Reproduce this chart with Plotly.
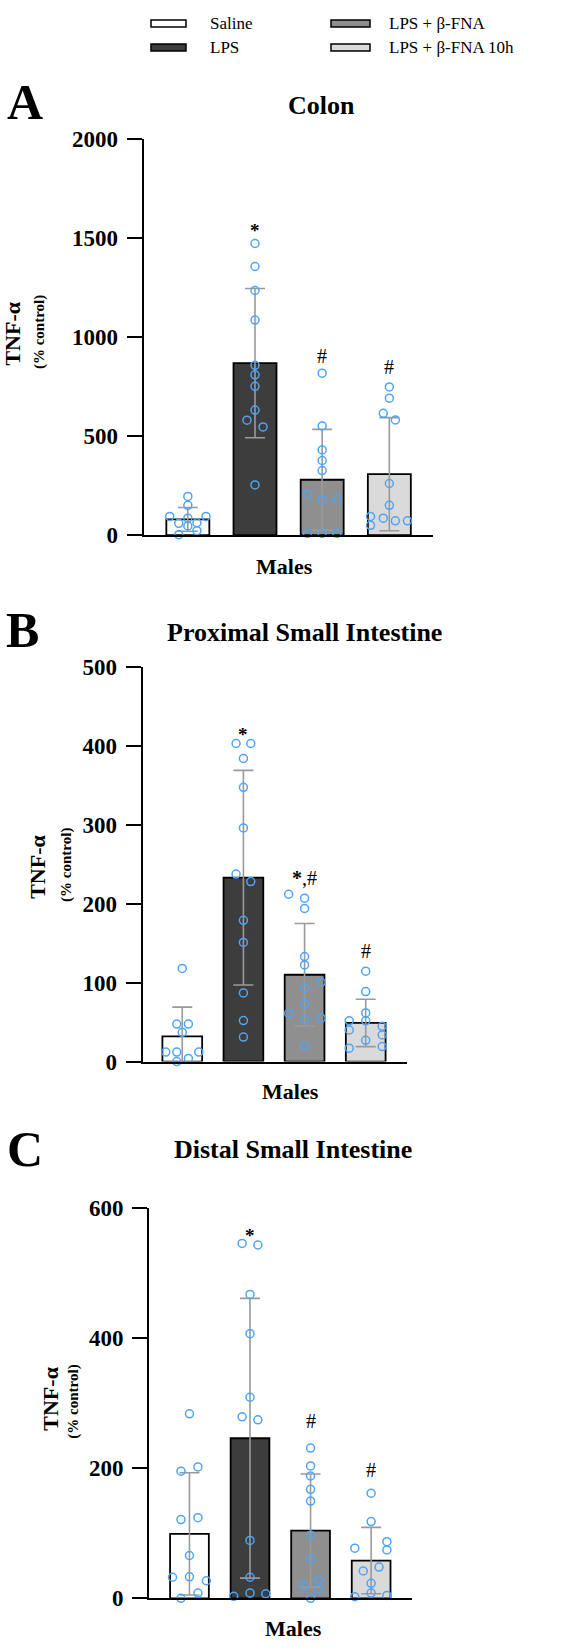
import plotly.graph_objects as go

W, H = 571, 1652

groups = ["Saline", "LPS", "LPS + β-FNA", "LPS + β-FNA 10h"]

# ---------------- data ----------------
# Panel A: Colon
colon_mean = [80, 868, 280, 308]
colon_sd = [60, 376, 254, 285]
colon_saline = [196, 151, 95, 95, 86, 60, 63, 47, 23, 3]
colon_lps = [1471, 1355, 1234, 1085, 857, 809, 751, 631, 580, 546, 254]
colon_fna = [817, 551, 430, 377, 326, 206, 178, 181, 10, 10, 10]
colon_fna10 = [748, 691, 615, 581, 261, 151, 95, 50, 86, 73, 73]

# Panel B: Proximal small intestine
prox_mean = [32, 233, 110, 49]
prox_sd = [37, 136, 65, 30]
prox_saline = [118, 47.5, 47.5, 37, 12, 12, 12, 4, 0]
prox_lps = [403, 403, 384, 347.5, 296, 237.5, 228, 179, 151, 87, 52, 31]
prox_fna = [212, 207, 194, 133, 122.5, 100.4, 93, 73, 61, 55, 53, 20]
prox_fna10 = [114.6, 88.75, 61.7, 51.7, 51.7, 40, 44.6, 33.75, 27, 19, 17]

# Panel C: Distal small intestine
dist_mean = [99, 246, 104, 58]
dist_sd = [94, 215, 87, 51]
dist_saline = [283.5, 202, 195.4, 124, 121, 65.8, 33, 32.4, 27, 8, 0]
dist_lps = [545.5, 543, 467, 406.7, 309, 279, 274.4, 89, 32.4, 8, 3, 7]
dist_fna = [231, 203.5, 188, 167.6, 149.4, 97, 61, 28, 20, 14, 0]
dist_fna10 = [161.5, 118, 87, 74.4, 77, 48, 42, 23, 8, 2.5, 4.5]

# significance labels
colon_sig = ["", "*", "#", "#"]
prox_sig = ["", "*", "<b>*</b>,#", "#"]
dist_sig = ["", "*", "#", "#"]

# ---------------- layout helpers (jitter / positions) ----------------
colon_jit = [
    [0, 0, -0.27, 0.27, 0, -0.135, 0.135, 0, 0.135, -0.135],
    [0, 0, 0, 0, 0, 0, 0, 0, -0.12, 0.12, 0],
    [0, 0, 0, 0, 0, -0.22, 0, 0.22, -0.22, 0, 0.22],
    [0, 0, -0.09, 0.09, 0, 0, -0.28, -0.28, -0.09, 0.09, 0.27],
]
prox_jit = [
    [0, -0.09, 0.1, 0, -0.27, -0.09, 0.27, 0.1, -0.09],
    [-0.12, 0.12, 0, 0, 0, -0.12, 0.12, 0, 0, 0, 0, 0],
    [-0.26, 0, 0, 0, 0, 0.27, 0, 0, -0.26, 0.27, 0, 0],
    [0, 0, 0, 0, -0.27, -0.27, 0.27, 0.27, 0, 0.27, -0.27],
]
dist_jit = [
    [0, 0.14, -0.14, 0.14, -0.14, 0, 0, -0.28, 0.28, 0.14, -0.14],
    [-0.13, 0.13, 0, 0, 0, -0.13, 0.13, 0, 0, 0, -0.27, 0.26],
    [0, 0, 0, 0, 0, 0, 0, 0.135, -0.11, 0.135, 0],
    [0, 0, 0.26, 0.26, -0.27, 0.13, -0.13, 0, 0, -0.27, 0.26],
]

bar_colors = ["#ffffff", "#3d3d3d", "#8f8f8f", "#dadada"]
pt_color = "#4ea4f6"
SERIF = "Liberation Serif"


def px_x(p):
    return p / W


def px_y(p):
    return 1 - p / H


panels = [
    dict(mean=colon_mean, sd=colon_sd,
         pts=[colon_saline, colon_lps, colon_fna, colon_fna10], jit=colon_jit,
         sig=colon_sig, sigy=[0, 1563, 904, 850], title="Colon",
         xd=[143.5, 433], yd=[531.3, 128.5], xr=[-0.66, 3.65], yr=[0, 2000], dt=500,
         bw=0.64, letter="A", letter_xy=(25, 91), title_xy=(321.7, 95),
         males_xy=(284.7, 563), tnf_xy=(12.5, 327), ctrl_xy=(39, 325)),
    dict(mean=prox_mean, sd=prox_sd,
         pts=[prox_saline, prox_lps, prox_fna, prox_fna10], jit=prox_jit,
         sig=prox_sig, sigy=[0, 421, 232, 140], title="Proximal Small Intestine",
         xd=[142.7, 407.3], yd=[1065.7, 665], xr=[-0.647, 3.68], yr=[0, 500], dt=100,
         bw=0.65, letter="B", letter_xy=(22, 627), title_xy=(304, 630),
         males_xy=(290.8, 1096), tnf_xy=(38, 868), ctrl_xy=(67, 866)),
    dict(mean=dist_mean, sd=dist_sd,
         pts=[dist_saline, dist_lps, dist_fna, dist_fna10], jit=dist_jit,
         sig=dist_sig, sigy=[0, 565, 273, 197], title="Distal Small Intestine",
         xd=[149, 411.7], yd=[1610.7, 1214.3], xr=[-0.668, 3.67], yr=[0, 600], dt=200,
         bw=0.64, letter="C", letter_xy=(25, 1154), title_xy=(293, 1155),
         males_xy=(293, 1641), tnf_xy=(51, 1408), ctrl_xy=(74, 1411)),
]

fig = go.Figure()
annotations = []
shapes = []
layout_axes = {}

for i, p in enumerate(panels):
    n = "" if i == 0 else str(i + 1)
    xa, ya = "x" + n, "y" + n
    fig.add_trace(go.Bar(
        x=list(range(4)), y=p["mean"], width=p["bw"], xaxis=xa, yaxis=ya,
        marker=dict(color=bar_colors, line=dict(color="black", width=1.8)),
        error_y=dict(type="data", array=p["sd"], visible=True, color="#9a9a9a",
                     thickness=1.6, width=10),
        showlegend=False, hoverinfo="skip"))
    for g in range(4):
        vals = p["pts"][g]
        xs = [g + o for o in p["jit"][g]]
        fig.add_trace(go.Scatter(
            x=xs, y=vals, mode="markers", xaxis=xa, yaxis=ya, cliponaxis=False,
            marker=dict(symbol="circle-open", size=8, color=pt_color,
                        line=dict(width=1.5, color=pt_color)),
            showlegend=False, hoverinfo="skip"))
        if p["sig"][g]:
            txt = p["sig"][g]
            is_star = txt == "*"
            annotations.append(dict(
                x=g, y=p["sigy"][g], xref=xa, yref=ya, text=txt, showarrow=False,
                xanchor="center", yanchor="middle", yshift=-5 if is_star else 0,
                font=dict(family=SERIF, size=19 if is_star else 20, color="black",
                          weight="bold" if is_star else "normal")))
    layout_axes["xaxis" + n] = dict(
        domain=[px_x(p["xd"][0]), px_x(p["xd"][1])], range=p["xr"], anchor=ya,
        showline=True, linewidth=2, linecolor="black", showgrid=False,
        zeroline=False, showticklabels=False, ticks="", fixedrange=True)
    layout_axes["yaxis" + n] = dict(
        domain=[px_y(p["yd"][0]), px_y(p["yd"][1])], range=p["yr"], anchor=xa,
        showline=True, linewidth=2, linecolor="black", showgrid=False,
        zeroline=False, ticks="outside", ticklen=15, tickwidth=2, tickcolor="black",
        tick0=0, dtick=p["dt"], ticklabelstandoff=4,
        tickfont=dict(family=SERIF, size=23, color="black", weight="bold"),
        fixedrange=True)
    # panel letter
    lx, ly = p["letter_xy"]
    annotations.append(dict(x=px_x(lx), y=px_y(ly), xref="paper", yref="paper",
                            text=p["letter"], showarrow=False, xanchor="center",
                            yanchor="middle",
                            font=dict(family=SERIF, size=50, color="black", weight="bold")))
    tx, ty = p["title_xy"]
    annotations.append(dict(x=px_x(tx), y=px_y(ty), xref="paper", yref="paper",
                            text=p["title"], showarrow=False, xanchor="center",
                            yanchor="middle",
                            font=dict(family=SERIF, size=26, color="black", weight="bold")))
    mx, my = p["males_xy"]
    annotations.append(dict(x=px_x(mx), y=px_y(my), xref="paper", yref="paper",
                            text="Males", showarrow=False, xanchor="center",
                            yanchor="middle",
                            font=dict(family=SERIF, size=22, color="black", weight="bold")))
    nx, ny = p["tnf_xy"]
    annotations.append(dict(x=px_x(nx), y=px_y(ny), xref="paper", yref="paper",
                            text="TNF-α", showarrow=False, textangle=-90,
                            xanchor="center", yanchor="middle", borderpad=0,
                            font=dict(family=SERIF, size=22, color="black", weight="bold")))
    cx, cy = p["ctrl_xy"]
    annotations.append(dict(x=px_x(cx), y=px_y(cy), xref="paper", yref="paper",
                            text="(% control)", showarrow=False, textangle=-90,
                            xanchor="center", yanchor="middle", borderpad=0,
                            font=dict(family=SERIF, size=15, color="black", weight="bold")))

# ---------------- legend (custom) ----------------
leg_pos = [(151, 186, 11.7), (151, 186, 36), (331, 370, 11.7), (331, 370, 36)]
leg_text_x = [208, 208, 387, 387]
for g in range(4):
    x0, x1, yc = leg_pos[g]
    shapes.append(dict(type="rect", xref="paper", yref="paper",
                       x0=px_x(x0), x1=px_x(x1), y0=px_y(yc + 3.5), y1=px_y(yc - 3.5),
                       fillcolor=bar_colors[g], line=dict(color="black", width=1.5)))
    annotations.append(dict(x=px_x(leg_text_x[g]), y=px_y(yc), xref="paper", yref="paper",
                            text=groups[g], showarrow=False, xanchor="left",
                            yanchor="middle",
                            font=dict(family=SERIF, size=17, color="black")))

fig.update_layout(
    width=W, height=H, margin=dict(l=0, r=0, t=0, b=0),
    paper_bgcolor="white", plot_bgcolor="white",
    annotations=annotations, shapes=shapes, showlegend=False,
    bargap=0.3, **layout_axes)

fig.write_html("out.html", config={"displayModeBar": False, "staticPlot": True},
               post_script="document.body.style.margin='0';")
